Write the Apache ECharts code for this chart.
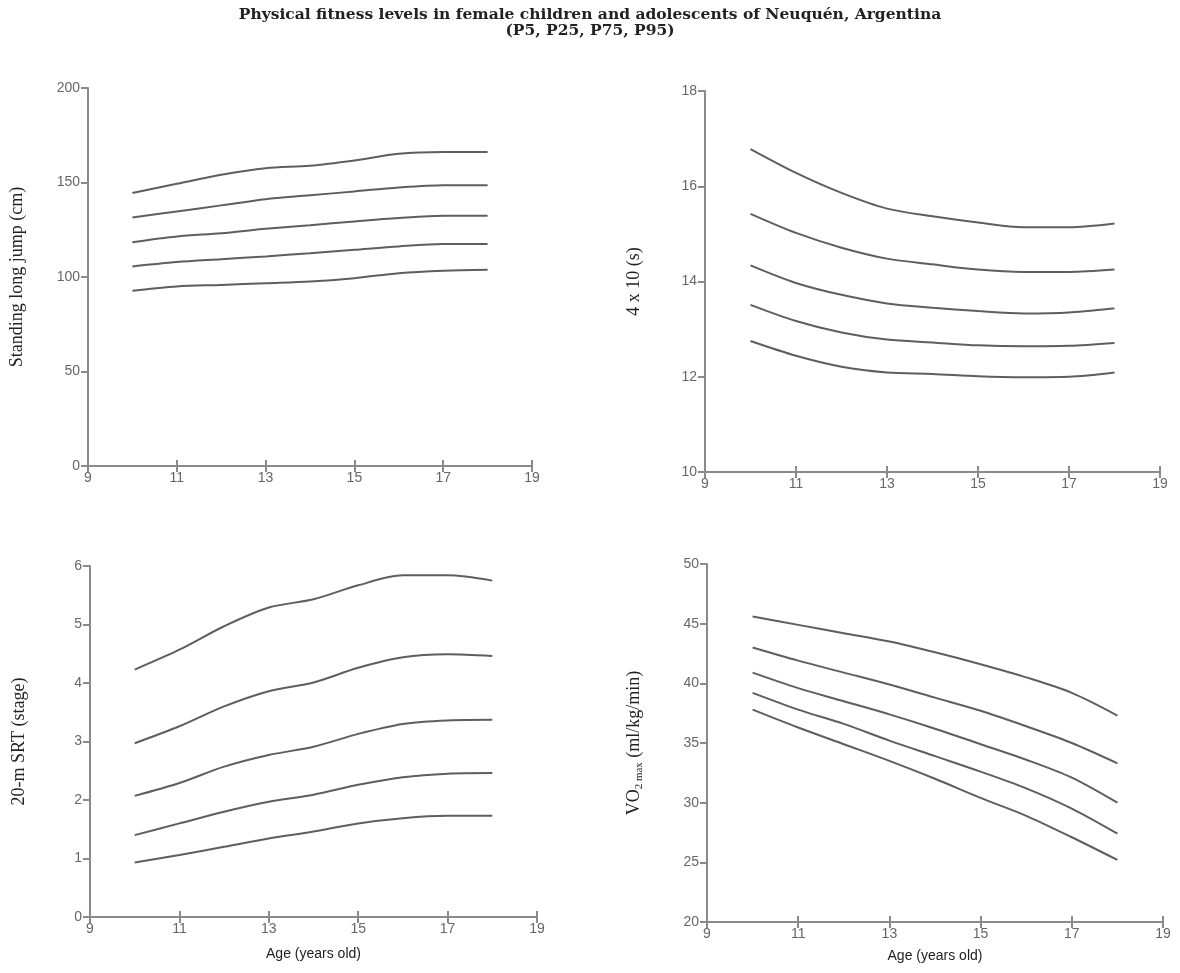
<!DOCTYPE html>
<html><head><meta charset="utf-8">
<script src="https://cdn.jsdelivr.net/npm/echarts@6/dist/echarts.min.js"></script>
<style>html,body{margin:0;padding:0;background:#fff}#c{width:1180px;height:973px}</style>
</head><body><div id="c"></div>
<script>
const ages = [10, 11, 12, 13, 14, 15, 16, 17, 18];
const percentiles = ['P95', 'P75', 'P50', 'P25', 'P5'];

const sljP95 = [144.4, 149.3, 154.1, 157.6, 158.9, 161.7, 165.2, 166.1, 166.1];
const sljP75 = [131.5, 134.7, 137.9, 141.2, 143.2, 145.3, 147.4, 148.6, 148.6];
const sljP50 = [118.4, 121.4, 123.2, 125.5, 127.4, 129.4, 131.2, 132.4, 132.4];
const sljP25 = [105.6, 107.9, 109.4, 110.9, 112.6, 114.4, 116.2, 117.4, 117.4];
const sljP5  = [92.7, 95.0, 95.8, 96.7, 97.6, 99.4, 102.0, 103.3, 103.8];

const sh1 = [16.78, 16.28, 15.86, 15.53, 15.37, 15.24, 15.14, 15.14, 15.22];
const sh2 = [15.42, 15.02, 14.71, 14.48, 14.36, 14.25, 14.20, 14.20, 14.25];
const sh3 = [14.34, 13.97, 13.72, 13.54, 13.45, 13.38, 13.33, 13.35, 13.44];
const sh4 = [13.51, 13.17, 12.93, 12.78, 12.72, 12.66, 12.64, 12.65, 12.71];
const sh5 = [12.75, 12.44, 12.21, 12.09, 12.06, 12.01, 11.99, 12.00, 12.09];

const srtP95 = [4.23, 4.57, 4.97, 5.29, 5.43, 5.67, 5.84, 5.84, 5.75];
const srtP75 = [2.97, 3.26, 3.60, 3.86, 4.01, 4.26, 4.44, 4.49, 4.46];
const srtP50 = [2.07, 2.29, 2.57, 2.77, 2.91, 3.13, 3.30, 3.36, 3.37];
const srtP25 = [1.40, 1.60, 1.80, 1.97, 2.09, 2.26, 2.39, 2.45, 2.46];
const srtP5  = [0.93, 1.06, 1.20, 1.34, 1.46, 1.60, 1.69, 1.73, 1.73];

const voP95 = [45.6, 44.9, 44.2, 43.5, 42.6, 41.6, 40.5, 39.2, 37.3];
const voP75 = [43.0, 41.9, 40.9, 39.9, 38.8, 37.7, 36.4, 35.0, 33.3];
const voP50 = [40.9, 39.6, 38.5, 37.4, 36.2, 34.9, 33.6, 32.1, 30.0];
const voP25 = [39.2, 37.8, 36.6, 35.2, 33.9, 32.6, 31.2, 29.5, 27.4];
const voP5  = [37.8, 36.3, 34.9, 33.5, 32.0, 30.4, 28.9, 27.1, 25.2];

const panels = [
  { lines: [sljP95, sljP75, sljP50, sljP25, sljP5], yMin: 0, yMax: 200, yStep: 50, name: 'Standing long jump (cm)', xName: '' },
  { lines: [sh1, sh2, sh3, sh4, sh5], yMin: 10, yMax: 18, yStep: 2, name: '4 x 10 (s)', xName: '' },
  { lines: [srtP95, srtP75, srtP50, srtP25, srtP5], yMin: 0, yMax: 6, yStep: 1, name: '20-m SRT (stage)', xName: 'Age (years old)' },
  { lines: [voP95, voP75, voP50, voP25, voP5], yMin: 20, yMax: 50, yStep: 5, name: '{a|VO}{s|2 max}{a| (ml/kg/min)}', xName: 'Age (years old)' }
];
const xMin = 9, xMax = 19, xStep = 2;

const grids = [
  { left: 88, top: 88, width: 444, height: 378 },
  { left: 705, top: 91, width: 455, height: 381 },
  { left: 90, top: 566, width: 447, height: 351 },
  { left: 707, top: 564, width: 456, height: 358 }
];
const nameGaps = [62, 62, 62, 62];
const xNameGaps = [30, 30, 30, 27];

const axisCol = '#8a8a8a';
const labelCol = '#666666';
const lineCol = '#5e5e5e';

const xAxis = [], yAxis = [], series = [];
panels.forEach((p, i) => {
  xAxis.push({
    type: 'value', gridIndex: i, min: xMin, max: xMax, interval: xStep, position: 'bottom',
    splitLine: { show: false },
    axisLine: { lineStyle: { color: axisCol, width: 2 } },
    axisTick: { lineStyle: { color: axisCol, width: 2 }, length: 6 },
    axisLabel: { color: labelCol, fontFamily: 'Liberation Sans, Arial', fontSize: 14, margin: 5 },
    name: p.xName, nameLocation: 'middle', nameGap: xNameGaps[i],
    nameTextStyle: { color: '#222', fontFamily: 'Liberation Sans, Arial', fontSize: 14 }
  });
  yAxis.push({
    type: 'value', gridIndex: i, min: p.yMin, max: p.yMax, interval: p.yStep,
    splitLine: { show: false },
    axisLine: { lineStyle: { color: axisCol, width: 2 } },
    axisTick: { lineStyle: { color: axisCol, width: 2 }, length: 7 },
    axisLabel: { color: labelCol, fontFamily: 'Liberation Sans, Arial', fontSize: 14, margin: 8 },
    name: p.name, nameLocation: 'middle', nameGap: nameGaps[i], nameRotate: 90,
    nameTextStyle: {
      color: '#222', fontFamily: 'Liberation Serif, serif', fontSize: 18,
      rich: {
        a: { fontFamily: 'Liberation Serif, serif', fontSize: 18, color: '#222', lineHeight: 22, verticalAlign: 'middle' },
        s: { fontFamily: 'Liberation Serif, serif', fontSize: 11, color: '#222', lineHeight: 22, verticalAlign: 'bottom', padding: [8, 0, 0, 0] }
      }
    }
  });
});
// inner tick duplicates so the x ticks cross the axis line
panels.forEach((p, i) => {
  xAxis.push({
    type: 'value', gridIndex: i, min: xMin, max: xMax, interval: xStep, position: 'bottom',
    splitLine: { show: false }, axisLine: { show: false }, axisLabel: { show: false },
    axisTick: { inside: true, length: 6, lineStyle: { color: axisCol, width: 2 } }
  });
});
panels.forEach((p, i) => {
  p.lines.forEach((vals, k) => {
    series.push({
      type: 'line', name: percentiles[k], xAxisIndex: i, yAxisIndex: i,
      data: ages.map((a, j) => [a, vals[j]]),
      smooth: 0.3, showSymbol: false, symbol: 'none',
      lineStyle: { color: lineCol, width: 2 }
    });
  });
});

const chart = echarts.init(document.getElementById('c'), null, { renderer: 'canvas' });
chart.setOption({
  animation: false,
  backgroundColor: '#fff',
  title: {
    text: 'Physical fitness levels in female children and adolescents of Neuquén, Argentina\n(P5, P25, P75, P95)',
    left: 'center', top: 2,
    textStyle: { fontFamily: 'DejaVu Serif, serif', fontWeight: 'bold', fontSize: 15.5, color: '#222', lineHeight: 16, align: 'center' }
  },
  grid: grids,
  xAxis: xAxis,
  yAxis: yAxis,
  series: series
});
</script></body></html>
